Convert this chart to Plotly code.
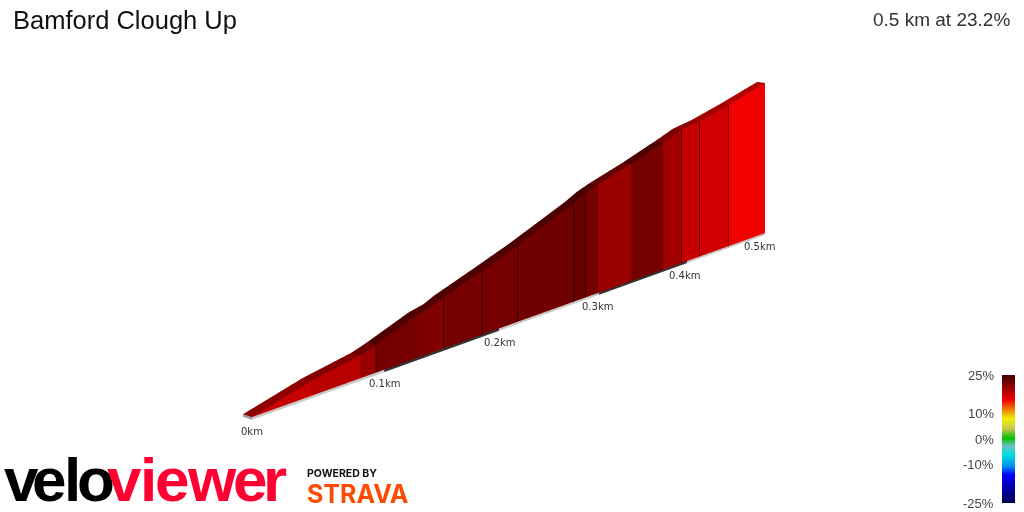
import numpy as np
import plotly.graph_objects as go

# climb profile
distance_km = [0, 0.0428, 0.0805, 0.0933, 0.1272, 0.140, 0.1496, 0.1844, 0.2174, 0.273, 0.2856, 0.2982, 0.3354, 0.372, 0.3932, 0.415, 0.4512, 0.5]
elevation_m = [0, 8.6, 13.6, 16.7, 26.3, 28.4, 31.7, 40.7, 49.5, 66.2, 70.8, 74.1, 82.2, 91.2, 96.8, 99.5, 106.1, 116.0]
gradient_pct = [17.5, 18.3, 20.0, 21.9, 21.6, 21.3, 21.9, 21.9, 22.2, 22.6, 21.9, 20.0, 21.9, 19.5, 17.6, 17.0, 15.3]
road_colors = ['#8c0000', '#840000', '#6a0000', '#4e0000', '#500000', '#520000', '#4e0000', '#4e0000', '#4c0000', '#480000',
               '#4e0000', '#660000', '#4e0000', '#780000', '#900000', '#a00000', '#b00000']

tick_km = [0, 0.1, 0.2, 0.3, 0.4, 0.5]
tick_labels = ['0km', '0.1km', '0.2km', '0.3km', '0.4km', '0.5km']
tick_shift_x = [0, 0, 1, -1, -2, -6]
base_colors = ['#c8c8c8', '#333333', '#c8c8c8', '#333333', '#c8c8c8']

scale_ticks = [25, 10, 0, -10, -25]
scale_colors = [
    [-25, '#000050'], [-14, '#0000ff'], [-10.7, '#0090f0'], [-6, '#00e0e0'], [-2.7, '#70c0c0'], [0.3, '#00c000'],
    [4, '#c8c850'], [8, '#f0f000'], [11.4, '#f08000'], [15.3, '#f00000'], [25, '#3f0000'],
]
colorscale = [[(v + 25) / 50, c] for v, c in scale_colors]

logo_letters = list('veloviewer')
logo_x = [21.5, 49, 72, 96, 124, 148, 172, 212, 250, 275]
logo_colors = ['#000000'] * 4 + ['#ff0033'] * 6

# the road climbs on screen without pitching the camera, so the walls stay upright
ground_rise = 214.8
road_width = 4.59
back_skew = 6.4
back_lift = 1.30
base_depth = 1.5
flat = dict(ambient=1, diffuse=0, specular=0, fresnel=0)

dist_m = np.array(distance_km) * 1000
elev = np.array(elevation_m)
ground = np.array(distance_km) * ground_rise
n = len(dist_m)

# wall: every segment gets its own four vertices so its colour stays flat
wx, wz, wc, wi, wj, wk = [], [], [], [], [], []
for s in range(n - 1):
    p = len(wx)
    wx += [dist_m[s], dist_m[s], dist_m[s + 1], dist_m[s + 1]]
    wz += [ground[s], ground[s] + elev[s], ground[s + 1] + elev[s + 1], ground[s + 1]]
    wc += [gradient_pct[s]] * 4
    wi += [p, p]
    wj += [p + 1, p + 2]
    wk += [p + 2, p + 3]

fig = go.Figure()

fig.add_trace(go.Mesh3d(
    x=wx, y=[0] * len(wx), z=wz, i=wi, j=wj, k=wk,
    intensity=wc, colorscale=colorscale, cmin=-25, cmax=25,
    lighting=flat, flatshading=True, hoverinfo='skip',
    colorbar=dict(
        x=1002 / 1024, xanchor='left', y=9 / 512, yanchor='bottom',
        lenmode='pixels', len=128, thickness=13, thicknessmode='pixels',
        xpad=0, ypad=0, outlinewidth=0, showticklabels=False, ticks='',
    ),
))

# road surface on top of the wall
rx = np.concatenate([dist_m, dist_m - back_skew])
ry = np.concatenate([np.zeros(n), np.full(n, road_width)])
rz = np.concatenate([ground + elev, ground + elev + back_lift])
seg = np.arange(n - 1)
fig.add_trace(go.Mesh3d(
    x=rx, y=ry, z=rz,
    i=np.concatenate([seg, seg]),
    j=np.concatenate([seg + n, seg + n + 1]),
    k=np.concatenate([seg + n + 1, seg + 1]),
    facecolor=road_colors * 2,
    lighting=flat, flatshading=True, hoverinfo='skip', showscale=False,
))

# strip under the wall, one colour per 0.1km, plus the end cap
bx, by, bz, bi, bj, bk, bc = [], [], [], [], [], [], []
for a, (km0, km1) in enumerate(zip(tick_km[:-1], tick_km[1:])):
    p = len(bx)
    bx += [km0 * 1000, km0 * 1000, km1 * 1000, km1 * 1000]
    by += [0, 0, 0, 0]
    bz += [km0 * ground_rise, km0 * ground_rise - base_depth, km1 * ground_rise - base_depth, km1 * ground_rise]
    bi += [p, p]
    bj += [p + 1, p + 2]
    bk += [p + 2, p + 3]
    bc += [base_colors[a], base_colors[a]]
p = len(bx)
bx += [0, 0, -back_skew, -back_skew]
by += [0, 0, road_width, road_width]
bz += [0, -base_depth, back_lift - base_depth, back_lift]
bi += [p, p]
bj += [p + 1, p + 2]
bk += [p + 2, p + 3]
bc += ['#999999', '#999999']

fig.add_trace(go.Mesh3d(
    x=bx, y=by, z=bz, i=bi, j=bj, k=bk, facecolor=bc,
    lighting=flat, flatshading=True, hoverinfo='skip', showscale=False,
))

# dark lines between the segments
lx, ly, lz = [], [], []
for d, g, e in zip(dist_m[1:-1], ground[1:-1], elev[1:-1]):
    lx += [d, d, None]
    ly += [-0.4, -0.4, None]
    lz += [g, g + e, None]
fig.add_trace(go.Scatter3d(
    x=lx, y=ly, z=lz, mode='lines',
    line=dict(color='rgba(0,0,0,0.5)', width=2),
    hoverinfo='skip', showlegend=False,
))

axis = dict(visible=False, showgrid=False, showbackground=False, zeroline=False, showspikes=False)
scene_annotations = [
    dict(x=km * 1000, y=0, z=km * ground_rise, text=t, showarrow=False, xshift=sx, yshift=-14,
         font=dict(family='DejaVu Sans', size=10, color='#333333'))
    for km, t, sx in zip(tick_km, tick_labels, tick_shift_x)
]

fig.update_layout(
    width=1024, height=512,
    margin=dict(l=0, r=0, t=0, b=0, autoexpand=False),
    paper_bgcolor='white',
    showlegend=False,
    scene=dict(
        domain=dict(x=[0, 1], y=[0, 1]),
        xaxis=dict(axis, range=[-7, 500]),
        yaxis=dict(axis, range=[-0.5, road_width]),
        zaxis=dict(axis, range=[-3, 226]),
        aspectmode='manual',
        aspectratio=dict(x=0.9524, y=0.00956, z=0.5879),
        camera=dict(
            eye=dict(x=-0.4412, y=-0.9613, z=-0.0562),
            center=dict(x=-0.0747, y=-0.0310, z=-0.0562),
            up=dict(x=0, y=0, z=1),
            projection=dict(type='perspective'),
        ),
        annotations=scene_annotations,
    ),
)

def label(text, x, y, size, color='#222222', anchor='left', family='Liberation Sans', weight='normal'):
    fig.add_annotation(
        text=text, x=x / 1024, y=1 - y / 512, xref='paper', yref='paper',
        xanchor=anchor, yanchor='middle', showarrow=False,
        font=dict(family=family, size=size, color=color, weight=weight),
    )

label('Bamford Clough Up', 11, 20, 25.5, '#111111')
label('0.5 km at 23.2%', 1012, 19, 19, '#333333', anchor='right')

for v in scale_ticks:
    label(f'{v}%', 996, 439 - v * 2.56, 13, '#444444', anchor='right')

for letter, x, color in zip(logo_letters, logo_x, logo_colors):
    label(letter, x, 479, 62, color, anchor='center', weight='bold')
label('POWERED BY', 305, 473, 10.5, '#111111', family='Inter', weight='bold')
label('STRAVA', 305, 494, 25, '#fc4c02', family='Inter', weight='bold')

# the page's default body margin would push the plot 8px in
fig.write_html("out.html", config=dict(displayModeBar=False), post_script="document.body.style.margin = '0';")
